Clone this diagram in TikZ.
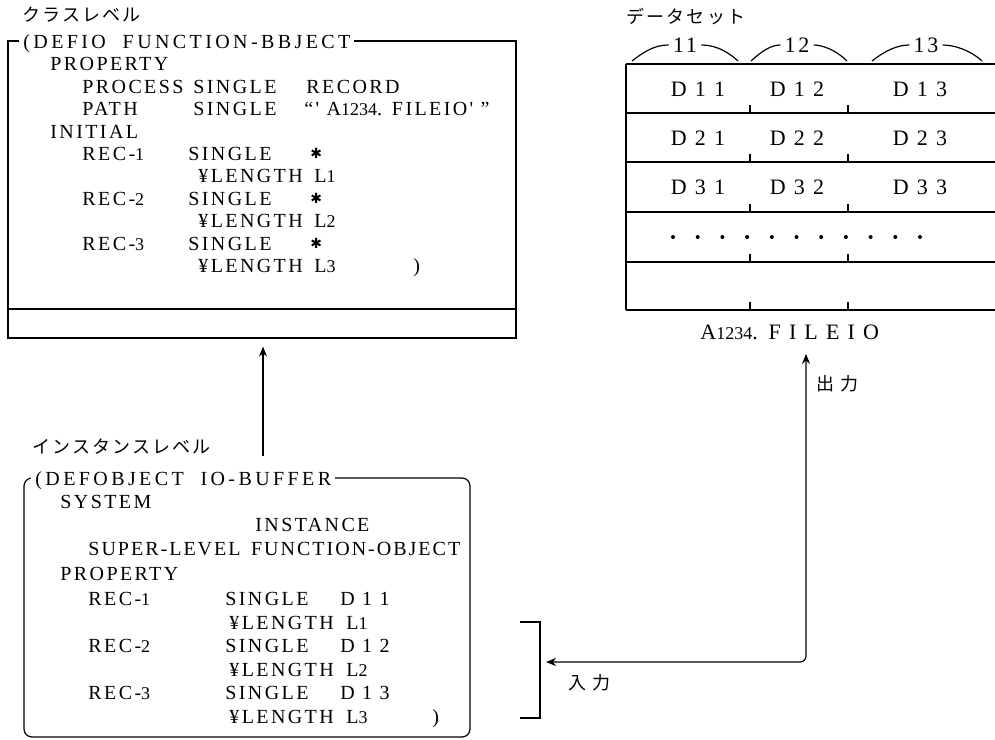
\documentclass[tikz,border=0pt]{standalone}
\usepackage{fontspec}
\setmainfont{Liberation Serif}
\newfontfamily\codefont[LetterSpace=12,WordSpace=2]{Liberation Serif}
\newfontfamily\tightfont[LetterSpace=10,WordSpace=1.5]{Liberation Serif}
\newfontfamily\cellfont[LetterSpace=12]{Liberation Serif}
\newfontfamily\jpfont[LetterSpace=12]{Noto Sans CJK JP}
\newfontfamily\symfont{DejaVu Sans}
\usetikzlibrary{arrows.meta,fit}
\newcommand{\smalldig}[1]{{\addfontfeature{LetterSpace=0}\small #1}}

\begin{document}
\begin{tikzpicture}[
  x=0.5pt, y=-0.5pt,
  code/.style  = {anchor=west, font=\codefont\fontsize{10}{12}\selectfont,
                  inner sep=0pt, text height=7pt, text depth=0pt},
  head/.style  = {code, fill=white, inner xsep=2pt,
                  font=\codefont\fontsize{10}{12}\selectfont\addfontfeature{LetterSpace=17}},
  star/.style  = {anchor=west, font=\symfont\fontsize{7}{8}\selectfont, inner sep=0pt},
  jlabel/.style= {anchor=west, font=\jpfont\fontsize{9}{11}\selectfont, inner sep=0pt},
  cell/.style  = {font=\cellfont\fontsize{11}{13}\selectfont, inner sep=0pt},
  box/.style   = {draw=black, line width=0.6pt, inner sep=0pt},
  arr/.style   = {-{Stealth[length=5pt,width=4pt]}, line width=0.6pt},
  line/.style  = {line width=0.6pt},
]
\useasboundingbox (0,0) rectangle (995,739);

% class level
\node[jlabel] (clslab) at (22,15) {クラスレベル};
\coordinate (ca) at (8,41);
\coordinate (cb) at (516,338);
\node[box, fit=(ca)(cb)] (clsbox) {};
\draw[line] (8,309) -- (516,309);
\node[head] (clshead) at (19,41) {(DEFIO FUNCTION-BBJECT};
\node[code] (cprop) at (50,63) {PROPERTY};
\node[code] (cproc) at (82,86) {PROCESS};
\node[code] (cpsgl) at (193,86) {SINGLE};
\node[code] (crec)  at (306,86) {RECORD};
\node[code] (cpath) at (82,108) {PATH};
\node[code] (cpasg) at (193,108) {SINGLE};
\node[code] (cname) at (304,108) {“' A\smalldig{1234}. FILEIO' ”};
\node[code] (cinit) at (50,131) {INITIAL};
\foreach \i/\y in {1/153,2/198,3/243} {
  \node[code] (crec\i) at (82,\y) {REC-\smalldig{\i}};
  \node[code] (csgl\i) at (188,\y) {SINGLE};
  \node[star] (cast\i) at (310,\y) {✱};
  \node[code] (clen\i) at (198,\y+22) {¥LENGTH};
  \node[code] (clv\i)  at (314,\y+22) {L\smalldig{\i}};
}
\node[code] (cclose) at (413,265) {)};

% instance level
\node[jlabel] (inslab) at (32,447) {インスタンスレベル};
\coordinate (ia) at (24,478);
\coordinate (ib) at (470,737);
\node[box, rounded corners=4pt, fit=(ia)(ib)] (insbox) {};
\node[head] (inshead) at (31,478) {(DEFOBJECT IO-BUFFER};
\node[code] (isys)  at (60,501) {SYSTEM};
\node[code] (iinst) at (255,524) {INSTANCE};
\node[code, font=\tightfont\fontsize{10}{12}\selectfont]
  (isup) at (88,548) {SUPER-LEVEL FUNCTION-OBJECT};
\node[code] (iprop) at (60,573) {PROPERTY};
\foreach \i/\y in {1/598,2/645,3/692} {
  \node[code] (irec\i) at (88,\y) {REC-\smalldig{\i}};
  \node[code] (isgl\i) at (225,\y) {SINGLE};
  \node[code] (idat\i) at (340,\y) {D 1 \i};
  \node[code] (ilen\i) at (229,\y+24) {¥LENGTH};
  \node[code] (ilv\i)  at (346,\y+24) {L\smalldig{\i}};
}
\node[code] (iclose) at (432,716) {)};

\coordinate (up0) at (263,456);
\draw[arr, shorten >=4pt] (up0) -- (up0 |- clsbox.south);

% data set
\node[jlabel] (dslab) at (626,17) {データセット};
\foreach \y in {64,113,162,212,262,310}
  \draw[line] (626,\y) -- (995,\y);
\draw[line] (626,64) -- (626,310);
\foreach \y in {113,162,212,262,310}
  \foreach \x in {750,848}
    \draw[line] (\x,\y) -- (\x,\y-8);
\foreach \r/\y in {1/89,2/138,3/187} {
  \node[cell] (d\r1) at (698,\y) {D \r\ 1};
  \node[cell] (d\r2) at (797,\y) {D \r\ 2};
  \node[cell] (d\r3) at (920,\y) {D \r\ 3};
}
\foreach \k in {0,...,10}
  \fill (673+24.7*\k,237) circle (1pt);

% field braces
\node[cell, fill=white, inner xsep=2pt] (f11) at (685,45) {11};
\node[cell, fill=white, inner xsep=2pt] (f12) at (797,45) {12};
\node[cell, fill=white, inner xsep=2pt] (f13) at (926,45) {13};
\draw[line] (632,61) .. controls (646,50) and (656,45) .. (f11.west);
\draw[line] (f11.east) .. controls (714,45) and (726,50) .. (738,61);
\draw[line] (751,61) .. controls (763,50) and (772,45) .. (f12.west);
\draw[line] (f12.east) .. controls (822,45) and (836,50) .. (847,61);
\draw[line] (872,61) .. controls (886,50) and (898,45) .. (f13.west);
\draw[line] (f13.east) .. controls (954,45) and (970,50) .. (982,61);

\node[cell, anchor=west, text height=7.5pt, text depth=0pt] (fname) at (700,332)
  {A\smalldig{1234}. F I L E I O};

% input / output
\draw[line] (520,622) -- (540,622) -- (540,718) -- (520,718);
\coordinate (brk) at (540,662);
\coordinate (turn) at (806,662);
\draw[{Stealth[length=5pt,width=4pt]}-{Stealth[length=5pt,width=4pt]},
      line width=0.6pt, rounded corners=3pt, shorten <=3pt, shorten >=7pt]
  (brk) -- (turn) -- (turn |- fname.south);
\node[jlabel] (outlab) at (816,384) {出 力};
\node[jlabel] (inlab)  at (568,683) {入 力};
\end{tikzpicture}
\end{document}
